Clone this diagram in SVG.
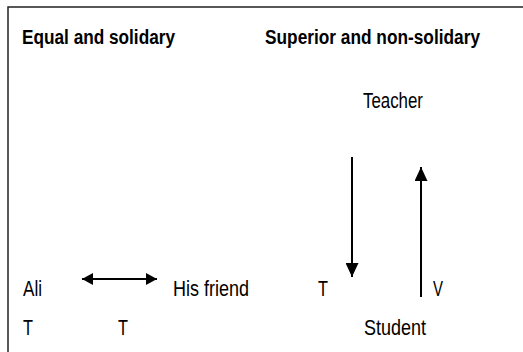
<svg xmlns="http://www.w3.org/2000/svg" width="523" height="352" viewBox="0 0 523 352">
  <style>
    .t { font-family: "Liberation Sans", Arial, sans-serif; font-size: 22px; fill: #000; }
    .b { font-weight: bold; font-size: 20px; }
    .conn { stroke: #000; stroke-width: 2; fill: none; }
    .frame { stroke: #222; stroke-width: 1.5; fill: none; }
  </style>
  <defs>
    <marker id="ah" markerUnits="userSpaceOnUse" markerWidth="14" markerHeight="13" refX="14" refY="6.5" orient="auto">
      <path d="M0,0 L14,6.5 L0,13 z" fill="#000"/>
    </marker>
    <marker id="ahs" markerUnits="userSpaceOnUse" markerWidth="11" markerHeight="12" refX="11" refY="6" orient="auto-start-reverse">
      <path d="M0,0 L11,6 L0,12 z" fill="#000"/>
    </marker>
  </defs>
  <rect width="523" height="352" fill="#fff"/>
  <path class="frame" d="M8,352 L8,7 L523,7"/>

  <g id="title-equal"><text class="t b" x="22" y="44" textLength="153" lengthAdjust="spacingAndGlyphs">Equal and solidary</text></g>
  <g id="title-superior"><text class="t b" x="265" y="44" textLength="215" lengthAdjust="spacingAndGlyphs">Superior and non-solidary</text></g>

  <g id="ali"><text class="t" x="23" y="296" textLength="19" lengthAdjust="spacingAndGlyphs">Ali</text></g>
  <g id="his-friend"><text class="t" x="173" y="296" textLength="76" lengthAdjust="spacingAndGlyphs">His friend</text></g>
  <g id="t-ali"><text class="t" x="23" y="335" textLength="10" lengthAdjust="spacingAndGlyphs">T</text></g>
  <g id="t-friend"><text class="t" x="118" y="335" textLength="10" lengthAdjust="spacingAndGlyphs">T</text></g>

  <g id="teacher"><text class="t" x="363" y="108" textLength="60" lengthAdjust="spacingAndGlyphs">Teacher</text></g>
  <g id="student"><text class="t" x="364" y="335" textLength="62" lengthAdjust="spacingAndGlyphs">Student</text></g>
  <g id="t-teacher"><text class="t" x="318" y="296" textLength="10" lengthAdjust="spacingAndGlyphs">T</text></g>
  <g id="v-student"><text class="t" x="433" y="296" textLength="10" lengthAdjust="spacingAndGlyphs">V</text></g>

  <g id="connectors">
    <line class="conn" x1="82" y1="279" x2="157" y2="279" marker-start="url(#ahs)" marker-end="url(#ahs)"/>
    <line class="conn" x1="352" y1="157" x2="352" y2="277" marker-end="url(#ah)"/>
    <line class="conn" x1="421" y1="297" x2="421" y2="167" marker-end="url(#ah)"/>
  </g>
</svg>
